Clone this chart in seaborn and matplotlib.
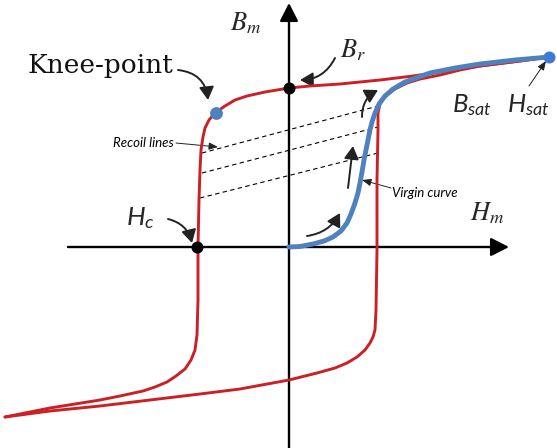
import matplotlib
matplotlib.use("Agg")
import matplotlib.pyplot as plt
import seaborn as sns
import pandas as pd

# Descending branch of the major loop (from +saturation to -saturation)
desc_h = [260, 231, 191, 151, 124, 91, 51, 21, 0, -24, -42, -54, -64, -74, -80, -84,
          -86, -88, -89, -90, -91, -91, -92, -94, -98, -104, -113, -122, -134, -146,
          -169, -189, -214, -239, -264, -284]
desc_b = [190, 186, 181, 175, 171, 167, 163, 161, 159, 155, 151, 147, 141, 134, 127, 119,
          110, 97, 77, 47, 0, -53, -88, -103, -113, -122, -129, -135, -140, -144,
          -149, -153, -157, -161, -166, -170]

# Ascending branch of the major loop (from -saturation back to +saturation)
asc_h = [-284, -239, -189, -139, -89, -49, 0, 28, 46, 58, 68, 76, 81, 84, 86, 87, 88, 88,
         89, 89, 91, 94, 98, 106, 118, 131, 151, 171, 191, 231, 260]
asc_b = [-170, -164, -159, -153, -147, -142, -133, -126, -121, -116, -110, -103, -96, -90,
         -83, -63, -3, 67, 117, 134, 143, 148, 152, 158, 164, 168, 172, 177, 181, 186, 190]

# Initial magnetisation (virgin) curve
virgin_h = [0, 11, 24, 35, 44, 52, 58, 62, 66, 69, 71, 73, 75, 77, 79, 81, 83, 86, 90,
            96, 104, 116, 141, 166, 191, 226, 260]
virgin_b = [0, 0.5, 3, 6, 10, 16, 24, 33, 44, 54, 64, 75, 87, 97, 107, 117, 125, 134, 143,
            151, 158, 165, 174, 179, 183, 187, 190]

# Recoil lines: start (on the loop) and end points
recoil_h0 = [-87, -87, -89]
recoil_b0 = [94, 74, 49]
recoil_h1 = [89, 89, 89]
recoil_b1 = [141, 120, 94]

# Characteristic points
br_point = (0, 159)
hc_point = (-92, 0)
knee_point = (-73, 134)
sat_point = (260, 190)

RED = "#cc2027"
BLUE = "#4f81bd"
BLUE_DOT = "#3f7bd4"

sns.set_theme(style="white")
plt.rcParams["mathtext.fontset"] = "custom"
plt.rcParams["mathtext.it"] = "Lato:italic"
plt.rcParams["mathtext.rm"] = "Lato"

fig = plt.figure(figsize=(5.57, 4.48), dpi=100)
ax = fig.add_axes([0, 0, 1, 1])
ax.set_xlim(-289, 268)
ax.set_ylim(-201, 247)
ax.set_axis_off()

# Axes with arrow heads
axis_arrow = dict(arrowstyle="-|>,head_length=0.55,head_width=0.28", lw=1.7, color="black",
                  mutation_scale=20, shrinkA=0, shrinkB=0)
ax.annotate("", xy=(0, 244), xytext=(0, -203), arrowprops=axis_arrow, zorder=2)
ax.annotate("", xy=(220, 0), xytext=(-221, 0), arrowprops=axis_arrow, zorder=2)

# Recoil lines
for h0, b0, h1, b1 in zip(recoil_h0, recoil_b0, recoil_h1, recoil_b1):
    ax.plot([h0, h1], [b0, b1], color="black", lw=0.8, linestyle=(0, (4, 3)), zorder=3)

# Hysteresis loop and virgin curve
loop = pd.DataFrame({"H": desc_h + asc_h, "B": desc_b + asc_b,
                     "branch": ["desc"] * len(desc_h) + ["asc"] * len(asc_h)})
for name in ["desc", "asc"]:
    part = loop[loop["branch"] == name]
    sns.lineplot(data=part, x="H", y="B", sort=False, estimator=None, color=RED,
                 lw=2.1, ax=ax, zorder=4)
sns.lineplot(x=virgin_h, y=virgin_b, sort=False, estimator=None, color=BLUE, lw=3.5,
             ax=ax, zorder=5)

# Marked points
sns.scatterplot(x=[br_point[0], hc_point[0]], y=[br_point[1], hc_point[1]], color="black",
                s=75, linewidth=0, ax=ax, zorder=6)
sns.scatterplot(x=[knee_point[0]], y=[knee_point[1]], color=BLUE, s=85, linewidth=0,
                ax=ax, zorder=6)
sns.scatterplot(x=[sat_point[0]], y=[sat_point[1]], color=BLUE_DOT, s=75, linewidth=0,
                ax=ax, zorder=6)

# Labels
ax.text(-262, 174, "Knee-point", fontsize=19, family="DejaVu Serif", ha="left",
        va="baseline", color="#111111")
ax.text(-59, 217, r"$B_m$", fontsize=19, math_fontfamily="stix", ha="left", va="baseline")
ax.text(51, 190, r"$B_r$", fontsize=19, math_fontfamily="stix", ha="left", va="baseline")
ax.text(181, 27, r"$H_m$", fontsize=19, math_fontfamily="stix", ha="left", va="baseline")
ax.text(-163, 22, r"$H_c$", fontsize=19, ha="left", va="baseline")
ax.text(163, 135, r"$B_{sat}$", fontsize=18.5, ha="left", va="baseline")
ax.text(218, 135, r"$H_{sat}$", fontsize=18.5, ha="left", va="baseline")
ax.text(-176, 104, "Recoil lines", fontsize=9.5, family="Lato", style="italic",
        ha="left", va="center", color="black")
ax.text(103, 54, "Virgin curve", fontsize=9.5, family="Lato", style="italic",
        ha="left", va="center", color="black")

# Callout arrows
curved = dict(arrowstyle="-|>,head_length=0.6,head_width=0.34", lw=1.4, color="#222222",
              mutation_scale=13, shrinkA=0, shrinkB=0)
ax.annotate("", xy=(-81, 147), xytext=(-111, 177),
            arrowprops={**curved, "connectionstyle": "arc3,rad=-0.4"})
ax.annotate("", xy=(11, 167), xytext=(46, 189),
            arrowprops={**curved, "connectionstyle": "arc3,rad=-0.3"})
ax.annotate("", xy=(-97, 4), xytext=(-121, 28),
            arrowprops={**curved, "connectionstyle": "arc3,rad=-0.3"})

# Direction-of-travel arrows along the virgin curve
ax.annotate("", xy=(51, 34), xytext=(18, 11),
            arrowprops={**curved, "connectionstyle": "arc3,rad=0.25"})
ax.annotate("", xy=(64, 101), xytext=(59, 59), arrowprops=curved)
ax.annotate("", xy=(89, 157), xytext=(73, 130),
            arrowprops={**curved, "connectionstyle": "arc3,rad=-0.3"})

# Thin pointer arrows
thin = dict(arrowstyle="-|>,head_length=0.5,head_width=0.2", lw=0.7, color="#222222",
            mutation_scale=11, shrinkA=0, shrinkB=0)
ax.annotate("", xy=(-71, 100), xytext=(-113, 104), arrowprops=thin)
ax.annotate("", xy=(73, 67), xytext=(102, 59), arrowprops=thin)
ax.annotate("", xy=(257, 186), xytext=(240, 161), arrowprops=thin)

fig.savefig("out.png", dpi=100)
